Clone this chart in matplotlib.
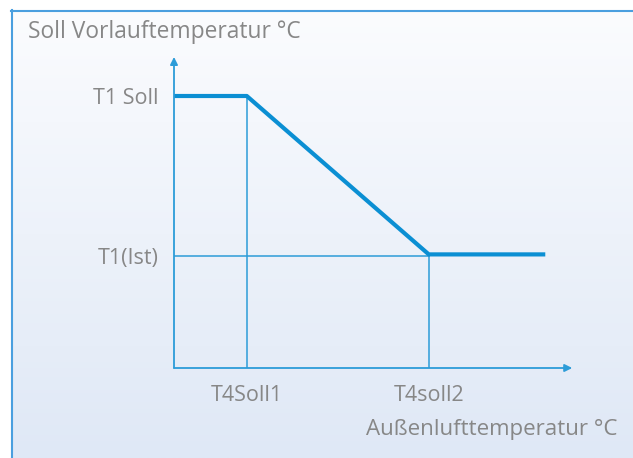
import numpy as np
import matplotlib.pyplot as plt

# heating curve: outdoor temperature set points vs. flow temperature
curve_x = [0, 1, 3.5, 5.1]
curve_y = [8.5, 8.5, 3.55, 3.55]

x_ticks = [1, 3.5]
x_ticklabels = ['T4Soll1', 'T4soll2']
y_ticks = [8.5, 3.5]
y_ticklabels = ['T1 Soll', 'T1(Ist)']

title_text = 'Soll Vorlauftemperatur °C'
xlabel_text = 'Außenlufttemperatur °C'

text_color = '#878787'
line_color = '#0b8fd3'
guide_color = '#2c9cd8'
font = 'Open Sans'

W, H = 633, 458
fig = plt.figure(figsize=(W / 100, H / 100), dpi=100)

# panel background with a soft vertical gradient and blue frame
bg = fig.add_axes([0, 0, 1, 1])
bg.set_xlim(0, W)
bg.set_ylim(0, H)
bg.axis('off')
grad = np.linspace(0, 1, 256).reshape(-1, 1)
bg.imshow(grad, extent=[11, W, 0, H - 10], origin='lower', aspect='auto',
          cmap=plt.matplotlib.colors.LinearSegmentedColormap.from_list(
              'panel', ['#dfe8f6', '#fbfcfe']))
bg.plot([11.5, 11.5], [0, H - 10], color='#4a9fdf', lw=1.5)
bg.plot([11, W], [H - 10.5, H - 10.5], color='#4a9fdf', lw=1.5)
bg.text(28, H - 32, title_text, fontsize=16.4, color=text_color, family=font,
        va='center', ha='left')
bg.text(618, H - 430, xlabel_text, fontsize=16.1, color=text_color, family=font,
        va='center', ha='right')

# chart area: 1 x-unit = 72.8 px, 1 y-unit = 32 px
xmax, ymax = 5.5, 9.8
ax = fig.add_axes([174 / W, 90 / H, xmax * 72.8 / W, ymax * 32 / H])
ax.set_xlim(0, xmax)
ax.set_ylim(0, ymax)
ax.patch.set_alpha(0)
for s in ax.spines.values():
    s.set_visible(False)

# axes with arrow heads
arrow = dict(arrowstyle='-|>', color=guide_color, lw=1.3, mutation_scale=11,
             shrinkA=0, shrinkB=0)
ax.annotate('', xy=(5.47, 0), xytext=(0, 0), arrowprops=arrow)
ax.annotate('', xy=(0, 9.72), xytext=(0, 0), arrowprops=arrow)

# guide lines
ax.plot([x_ticks[0], x_ticks[0]], [0, y_ticks[0]], color=guide_color, lw=1.1)
ax.plot([x_ticks[1], x_ticks[1]], [0, y_ticks[1]], color=guide_color, lw=1.1)
ax.plot([0, x_ticks[1]], [y_ticks[1], y_ticks[1]], color=guide_color, lw=1.1)

ax.plot(curve_x, curve_y, color=line_color, lw=3, solid_capstyle='butt')

ax.set_xticks(x_ticks)
ax.set_xticklabels(x_ticklabels, fontsize=15.5, color=text_color, family=font)
ax.set_yticks(y_ticks)
ax.set_yticklabels(y_ticklabels, fontsize=15.5, color=text_color, family=font)
ax.tick_params(length=0, pad=12)
ax.tick_params(axis='y', pad=11)

fig.savefig('out.png', dpi=100)
